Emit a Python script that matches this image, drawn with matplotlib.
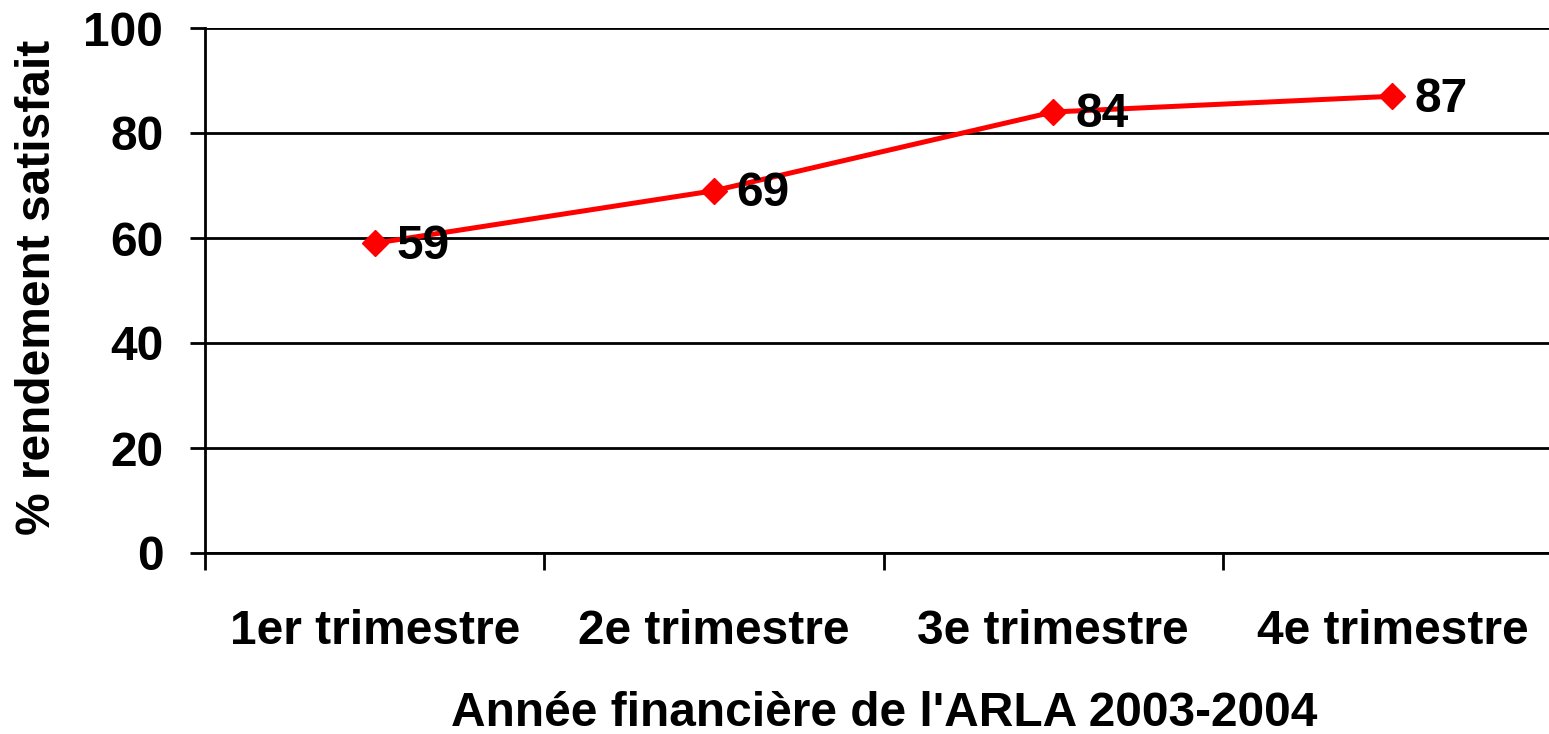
import matplotlib
matplotlib.use("Agg")
import matplotlib.pyplot as plt
from matplotlib.ticker import FixedLocator

categories = ["1er trimestre", "2e trimestre", "3e trimestre", "4e trimestre"]
values = [59, 69, 84, 87]
yticks = [0, 20, 40, 60, 80, 100]
xlabel = "Année financière de l'ARLA 2003-2004"
ylabel = "% rendement satisfait"

plt.rcParams['font.family'] = ['Liberation Sans', 'DejaVu Sans']
plt.rcParams['font.weight'] = 'bold'

FS = 34.5
W, H = 1549, 734
fig = plt.figure(figsize=(W / 100, H / 100), dpi=100)
left = 205 / W
right = 1562 / W
top = 1 - 28 / H
bottom = 1 - 553 / H
ax = fig.add_axes([left, bottom, right - left, top - bottom])

x = list(range(len(categories)))
ax.plot(x, values, color='#ff0000', lw=3.6, marker='D', markersize=13,
        markeredgecolor='#ff0000', markerfacecolor='#ff0000', zorder=3, clip_on=False)
for xi, v in zip(x, values):
    ax.annotate(str(v), (xi, v), xytext=(16, -2), textcoords='offset points',
                ha='left', va='center', fontsize=FS, fontweight='bold', color='black')

ax.set_xlim(-0.5, len(categories) - 0.5)
ax.set_ylim(0, 100)
ax.set_yticks(yticks)
ax.set_yticklabels([str(t) for t in yticks])
ax.yaxis.grid(True, color='black', lw=2)
ax.set_axisbelow(True)

ax.set_xticks(x)
ax.set_xticklabels(categories)
ax.xaxis.set_minor_locator(FixedLocator([i - 0.5 for i in range(len(categories) + 1)]))
ax.tick_params(axis='x', which='major', length=0, pad=40, labelsize=FS)
ax.tick_params(axis='x', which='minor', length=12, width=2, direction='out')
ax.tick_params(axis='y', which='major', length=11, width=2, pad=19, labelsize=FS)

for s in ['top', 'right']:
    ax.spines[s].set_visible(False)
ax.spines['left'].set_linewidth(2)
ax.spines['bottom'].set_linewidth(2)

fig.text(38 / W, 1 - 287 / H, ylabel, rotation=90, ha='center', va='center',
         fontsize=FS, fontweight='bold')
fig.text(884 / W, 1 - 714 / H, xlabel, ha='center', va='center',
         fontsize=FS, fontweight='bold')

fig.savefig("out.png", dpi=100)
